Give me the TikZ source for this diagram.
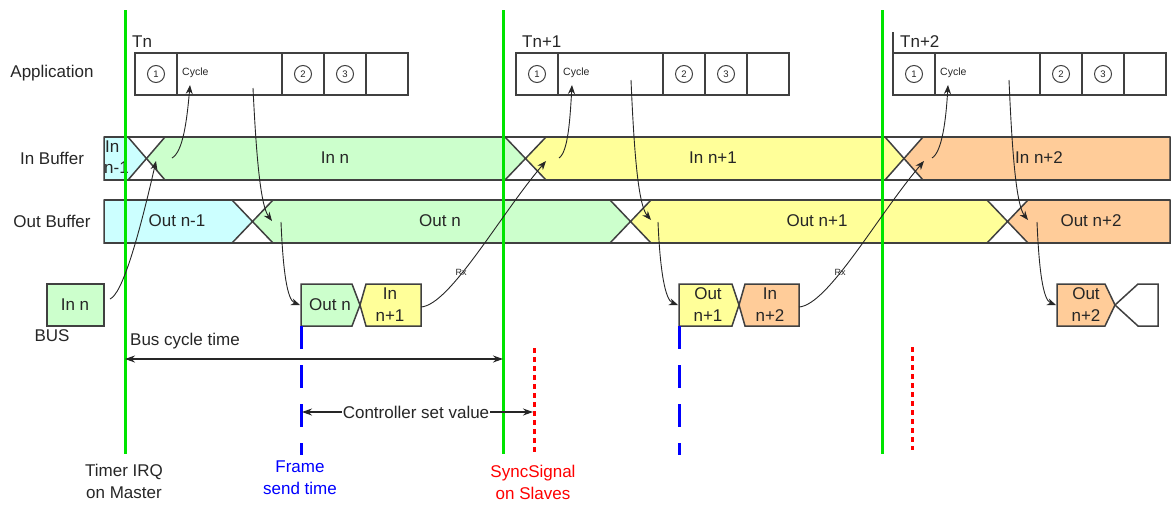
\documentclass[tikz,border=0pt]{standalone}
\usepackage{fontspec}
\setmainfont{Liberation Sans}
\usetikzlibrary{arrows.meta}
\definecolor{cyanfill}{HTML}{CCFFFF}
\definecolor{greenfill}{HTML}{CCFFCC}
\definecolor{yellowfill}{HTML}{FFFF99}
\definecolor{orangefill}{HTML}{FFCC99}
\definecolor{edge}{HTML}{404040}
\definecolor{ink}{HTML}{262626}
\definecolor{timer}{RGB}{0,228,0}
\begin{document}
\begin{tikzpicture}[x=1pt,y=-1pt,
  seg/.style={draw=edge,line width=1.5pt,line join=miter},
  cell/.style={draw=edge,line width=1.2pt},
  lbl/.style={font=\fontsize{17}{22}\selectfont,text=ink,inner sep=0pt},
  twoline/.style={lbl,align=center},
  small/.style={font=\fontsize{10.5}{12}\selectfont,text=ink,inner sep=0pt},
  rxlbl/.style={font=\fontsize{9}{10}\selectfont,text=ink,inner sep=0pt},
  num/.style={circle,draw=edge,line width=1pt,minimum size=17pt,inner sep=0pt,
    font=\fontsize{9.5}{10}\selectfont,text=ink},
  flow/.style={draw=ink,line width=0.9pt,-{Stealth[length=9pt,width=7pt]}},
  timerline/.style={draw=timer,line width=3pt},
  sendline/.style={draw=blue,line width=3pt,dash pattern=on 23pt off 16pt},
  syncline/.style={draw=red,line width=3pt,dash pattern=on 5pt off 4pt},
  dimline/.style={draw=ink,line width=1.1pt},
]
\useasboundingbox (0,0) rectangle (1172,504);

% ---------- row labels ----------
\node[lbl] (rowapp) at (52,73) {Application};
\node[lbl] (rowin)  at (52,158) {In Buffer};
\node[lbl] (rowout) at (52,221) {Out Buffer};
\node[lbl] (rowbus) at (52,336) {BUS};

% ---------- application cycles ----------
\foreach \x/\t/\dx [count=\i] in {135/Tn/-3, 516/Tn+1/6, 893/Tn+2/7} {
  \draw[cell] (\x,53) rectangle (\x+273,95);
  \foreach \d in {42,147,189,231}
    \draw[cell] (\x+\d,53) -- (\x+\d,95);
  \node[lbl,anchor=west] (tn\i) at (\x+\dx,42) {\t};
  \node[num] (one\i)   at (\x+21,74)  {1};
  \node[num] (two\i)   at (\x+168,74) {2};
  \node[num] (three\i) at (\x+210,74) {3};
  \node[small,anchor=west] (cyc\i) at (\x+47,73) {Cycle};
}
\draw[cell] (893,32) -- (893,53);

% ---------- in buffer ----------
\draw[seg,fill=cyanfill]   (104,137) -- (128,137) -- (146.5,158.5) -- (128,180) -- (104,180) -- cycle;
\draw[seg,fill=greenfill]  (165,137) -- (505,137) -- (525.5,158.5) -- (505,180) -- (165,180) -- (146.5,158.5) -- cycle;
\draw[seg,fill=yellowfill] (546,137) -- (885,137) -- (904,158.5) -- (885,180) -- (546,180) -- (525.5,158.5) -- cycle;
\draw[seg,fill=orangefill] (923,137) -- (1170,137) -- (1170,180) -- (923,180) -- (904,158.5) -- cycle;
\draw[seg] (104,137) -- (1170,137);
\draw[seg] (104,180) -- (1170,180);

\node[lbl,anchor=west] (inprev1) at (105,147) {In};
\node[lbl,anchor=west] (inprev2) at (104,168) {n-1};
\node[lbl] (inn)  at (335,158) {In n};
\node[lbl] (inn1) at (713,158) {In n+1};
\node[lbl] (inn2) at (1039,158) {In n+2};

% ---------- out buffer ----------
\draw[seg,fill=cyanfill]   (104,200) -- (232,200) -- (252.5,221.5) -- (232,243) -- (104,243) -- cycle;
\draw[seg,fill=greenfill]  (273,200) -- (610,200) -- (630.5,221.5) -- (610,243) -- (273,243) -- (252.5,221.5) -- cycle;
\draw[seg,fill=yellowfill] (651,200) -- (987,200) -- (1007.5,221.5) -- (987,243) -- (651,243) -- (630.5,221.5) -- cycle;
\draw[seg,fill=orangefill] (1028,200) -- (1170,200) -- (1170,243) -- (1028,243) -- (1007.5,221.5) -- cycle;
\draw[seg] (104,200) -- (1170,200);
\draw[seg] (104,243) -- (1170,243);

\node[lbl] (outprev) at (177,221) {Out n-1};
\node[lbl] (outn)    at (440,221) {Out n};
\node[lbl] (outn1)   at (817,221) {Out n+1};
\node[lbl] (outn2)   at (1091,221) {Out n+2};

% ---------- bus frames ----------
\draw[seg,fill=greenfill] (47,284) rectangle (104,326);
\node[lbl] (busin) at (75,305) {In n};

\draw[seg,fill=greenfill]  (301,284) -- (352,284) -- (360,305) -- (352,326) -- (301,326) -- cycle;
\draw[seg,fill=yellowfill] (366,284) -- (421,284) -- (421,326) -- (366,326) -- (360,305) -- cycle;
\node[lbl] (fout1) at (330,305) {Out n};
\node[twoline] (fin1) at (390,305) {In\\n+1};

\draw[seg,fill=yellowfill] (679,284) -- (732,284) -- (739,305) -- (732,326) -- (679,326) -- cycle;
\draw[seg,fill=orangefill] (745,284) -- (799,284) -- (799,326) -- (745,326) -- (739,305) -- cycle;
\node[twoline] (fout2) at (708,305) {Out\\n+1};
\node[twoline] (fin2)  at (770,305) {In\\n+2};

\draw[seg,fill=orangefill] (1057,284) -- (1105,284) -- (1115,305) -- (1105,326) -- (1057,326) -- cycle;
\draw[seg] (1115,305) -- (1138,284) -- (1158,284) -- (1158,326) -- (1138,326) -- cycle;
\node[twoline] (fout3) at (1086,305) {Out\\n+2};

% ---------- time markers ----------
\coordinate (irqA) at (125,10);  \coordinate (irqAb) at (125,454);
\coordinate (irqB) at (503,10);  \coordinate (irqBb) at (503,454);
\coordinate (irqC) at (882,10);  \coordinate (irqCb) at (882,454);
\draw[timerline] (irqA) -- (irqAb);
\draw[timerline] (irqB) -- (irqBb);
\draw[timerline] (irqC) -- (irqCb);

\draw[sendline] (301,326) -- (301,455);
\draw[sendline] (679,326) -- (679,455);
\draw[syncline] (534,348) -- (534,452);
\draw[syncline] (912,347) -- (912,450);

% ---------- dimensions ----------
\coordinate (bcl) at (125,359);
\coordinate (bcr) at (503,359);
\draw[dimline,{Stealth[length=10pt,width=7pt]}-{Stealth[length=10pt,width=7pt]}] (bcl) -- (bcr);
\node[lbl,anchor=west] (bct) at (130,341) {Bus cycle time};

\coordinate (csl) at (302,412);
\coordinate (csr) at (533,412);
\node[lbl,fill=white,inner sep=1pt] (cst) at (416,412) {Controller set value};
\draw[dimline,-{Stealth[length=10pt,width=7pt]}] (cst.west) -- (csl);
\draw[dimline,-{Stealth[length=10pt,width=7pt]}] (cst.east) -- (csr);

% ---------- data flow ----------
\coordinate (p1s) at (110,299);  \coordinate (p1e) at (156,161);
\coordinate (p2s) at (172,158);  \coordinate (p2e) at (190,85);
\coordinate (p3s) at (253,88);   \coordinate (p3e) at (272,221);
\coordinate (p4s) at (281,222);  \coordinate (p4e) at (300,305);
\coordinate (p5s) at (421,307);  \coordinate (p5e) at (546,161);
\coordinate (p6s) at (559,158);  \coordinate (p6e) at (572,85);
\coordinate (p7s) at (631,80);   \coordinate (p7e) at (651,220);
\coordinate (p8s) at (658,222);  \coordinate (p8e) at (678,305);
\coordinate (p9s) at (799,307);  \coordinate (p9e) at (924,161);
\coordinate (p10s) at (932,158); \coordinate (p10e) at (948,85);
\coordinate (p11s) at (1009,80); \coordinate (p11e) at (1028,220);
\coordinate (p12s) at (1037,222);\coordinate (p12e) at (1056,305);

\draw[flow] (p1s) .. controls (122,294) and (138,240) .. (p1e);
\draw[flow] (p2s) .. controls (183,152) and (187,120) .. (p2e);
\draw[flow] (p3s) .. controls (256,150) and (260,205) .. (p3e);
\draw[flow] (p4s) .. controls (283,270) and (287,300) .. (p4e);
\draw[flow] (p5s) .. controls (450,305) and (500,215) .. (p5e);
\draw[flow] (p6s) .. controls (568,152) and (570,120) .. (p6e);
\draw[flow] (p7s) .. controls (634,150) and (638,205) .. (p7e);
\draw[flow] (p8s) .. controls (660,270) and (665,300) .. (p8e);
\draw[flow] (p9s) .. controls (828,305) and (878,215) .. (p9e);
\draw[flow] (p10s) .. controls (942,152) and (946,120) .. (p10e);
\draw[flow] (p11s) .. controls (1012,150) and (1016,205) .. (p11e);
\draw[flow] (p12s) .. controls (1039,270) and (1043,300) .. (p12e);

\node[rxlbl] (rx1) at (461,272) {Rx};
\node[rxlbl] (rx2) at (840,272) {Rx};

% ---------- bottom captions ----------
\node[twoline] (capirq)  at (124,481) {Timer IRQ\\on Master};
\node[twoline,text=blue] (capsend) at (300,478) {Frame\\send time};
\node[twoline,text=red]  (capsync) at (533,482) {SyncSignal\\on Slaves};
\end{tikzpicture}
\end{document}
